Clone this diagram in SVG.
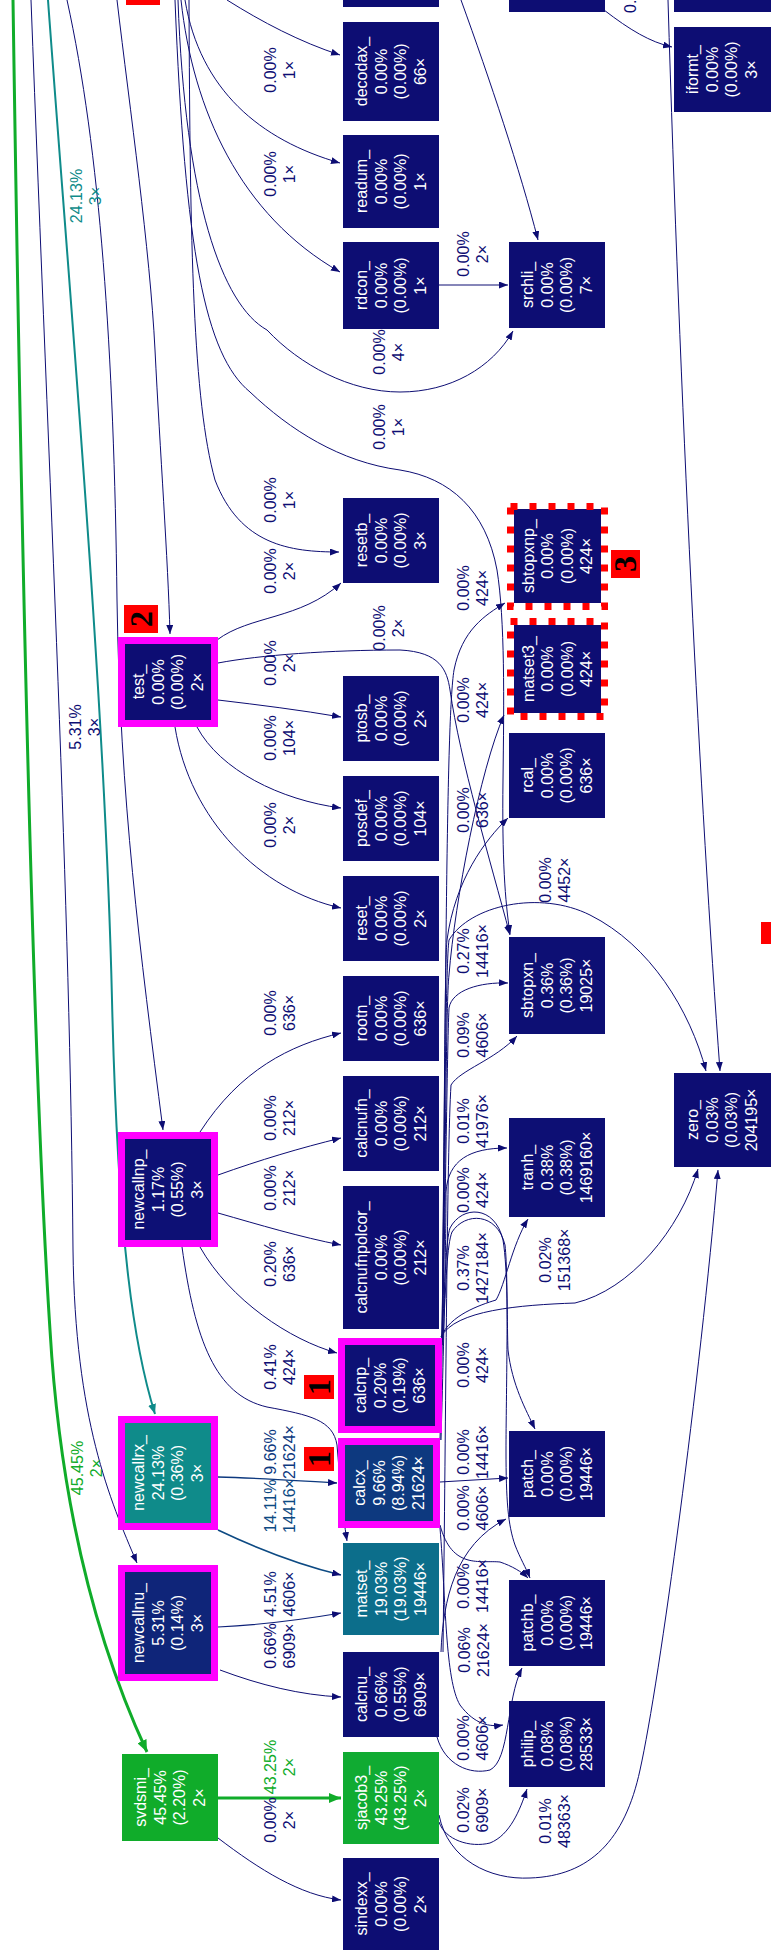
<svg xmlns="http://www.w3.org/2000/svg" width="771" height="1955" viewBox="0 0 771 1955">
<style>
.n rect{fill:#0d0d73}
.n text{font-family:"Liberation Sans",Arial,sans-serif;font-size:16px;fill:#ffffff;text-anchor:middle}
.n .mg{stroke:#ff00ff;stroke-width:7}
.n .dr{fill:none;stroke:#ff0000;stroke-width:7;stroke-dasharray:7 12}
.e path{fill:none;stroke:#0d0d73;stroke-width:1;marker-end:url(#aN)}
.e text{font-family:"Liberation Sans",Arial,sans-serif;font-size:16px;fill:#0d0d73;text-anchor:middle}
.e .g{stroke:#10ac2a;stroke-width:3;marker-end:url(#aG)}
.e .t{stroke:#0f8b8a;stroke-width:2;marker-end:url(#aT)}
.tag rect{fill:#ff0000}
.tag text{font-family:"Liberation Serif","Times New Roman",serif;font-weight:bold;font-size:32px;fill:#000000;text-anchor:middle}
</style>
<defs>
<marker id="aN" markerUnits="userSpaceOnUse" markerWidth="9" markerHeight="7" refX="9" refY="3.5" orient="auto"><path d="M0,0 L9,3.5 L0,7 z" fill="#0d0d73"/></marker>
<marker id="aG" markerUnits="userSpaceOnUse" markerWidth="12" markerHeight="10" refX="12" refY="5" orient="auto"><path d="M0,0 L12,5 L0,10 z" fill="#10ac2a"/></marker>
<marker id="aT" markerUnits="userSpaceOnUse" markerWidth="10" markerHeight="8" refX="10" refY="4" orient="auto"><path d="M0,0 L10,4 L0,8 z" fill="#0f8b8a"/></marker>
</defs>
<rect x="0" y="0" width="771" height="1955" fill="#ffffff"/>
<g id="connectors" class="e">
<path class="g" d="M13,0 C22,600 35,1100 50,1330 C60,1500 95,1640 147,1752"/>
<path d="M31,0 C50,500 70,900 73,1250 C75,1420 110,1500 137,1563"/>
<path class="t" d="M48,0 C70,300 105,700 112,1000 C118,1250 135,1350 155,1414"/>
<path d="M67,0 C100,150 114,350 117,600 C120,800 140,950 163,1130"/>
<path d="M117,0 C130,110 150,250 155,350 C160,450 168,560 170,634"/>
<path d="M227,0 C262,22 300,42 340,55"/>
<path d="M185,0 C200,90 260,140 340,163"/>
<path d="M181,0 C193,110 240,215 340,272"/>
<path d="M178,0 C185,200 222,305 267,330 C300,365 350,392 400,392 C450,392 492,368 513,331"/>
<path d="M175,0 C185,250 205,355 250,392 C290,430 340,462 400,470 C450,478 486,510 497,570 C505,620 504,700 503,780 C502,860 505,900 510,934"/>
<path d="M189,0 C190,250 193,400 215,480 C240,545 290,552 339,552"/>
<path d="M461,0 C490,80 520,170 538,240"/>
<path d="M668,0 C680,400 700,800 720,1071"/>
<path d="M604,10 C630,30 650,42 672,47"/>
<path d="M217,640 C250,615 300,620 341,583"/>
<path d="M218,663 C260,655 330,650 400,650 C440,652 447,670 450,690 C460,760 490,860 510,935"/>
<path d="M218,700 C260,705 300,710 341,717"/>
<path d="M197,727 C220,770 280,800 341,808"/>
<path d="M175,727 C190,820 260,890 341,908"/>
<path d="M200,1132 C240,1070 290,1045 341,1033"/>
<path d="M218,1175 C260,1160 300,1148 341,1138"/>
<path d="M218,1213 C260,1225 300,1237 341,1245"/>
<path d="M200,1247 C230,1300 290,1340 337,1353"/>
<path d="M182,1247 C195,1340 215,1395 267,1407 C310,1415 333,1420 337,1445 C340,1480 342,1510 347,1541"/>
<path style="stroke:#0d397f;stroke-width:1.3" d="M218,1477 C260,1478 300,1481 337,1483"/>
<path style="stroke:#0d4a83;stroke-width:1.6" d="M218,1530 C260,1550 300,1565 341,1575"/>
<path style="stroke:#0d2078;stroke-width:1.1" d="M218,1627 C260,1625 300,1620 341,1613"/>
<path d="M220,1670 C260,1685 300,1695 341,1697"/>
<path class="g" d="M218,1798 L341,1798"/>
<path d="M218,1838 C260,1870 300,1895 341,1900"/>
<path d="M439,285 L508,285"/>
<path d="M442,1342 C446,1000 446,720 454,670 C462,630 485,615 505,603"/>
<path d="M442,1342 C446,1150 446,1000 449,975 C455,900 480,770 504,715"/>
<path d="M442,1345 C445,1050 445,960 447,940 C455,880 485,840 508,818"/>
<path d="M442,1345 C445,1100 446,960 449,940 C470,905 540,890 590,915 C650,945 690,1010 706,1071"/>
<path d="M440,1440 C446,1200 447,1050 449,1008 C452,990 480,982 508,983"/>
<path d="M443,1652 C446,1400 447,1150 451,1085 C460,1070 495,1060 517,1036"/>
<path d="M441,1440 C445,1300 446,1220 446,1192 C448,1160 470,1148 507,1148"/>
<path d="M442,1340 C445,1280 446,1240 450,1228 C462,1205 495,1205 503,1240 C508,1270 507,1330 508,1350 C512,1385 526,1410 535,1429"/>
<path d="M441,1337 C450,1315 480,1305 496,1300 C505,1285 512,1245 528,1219"/>
<path d="M441,1337 C455,1310 520,1305 575,1303 C630,1290 680,1230 698,1169"/>
<path d="M443,1340 C446,1280 447,1245 452,1232 C465,1212 497,1212 505,1245 C509,1280 506,1400 506,1450 C506,1500 508,1525 515,1545 C520,1558 526,1568 530,1578"/>
<path d="M440,1482 L508,1478"/>
<path d="M441,1652 C443,1600 455,1545 506,1519"/>
<path d="M440,1525 C452,1570 480,1560 500,1562 C512,1566 522,1572 528,1578"/>
<path d="M440,1528 C446,1600 445,1680 460,1705 C475,1725 490,1727 503,1725"/>
<path d="M437,1737 C445,1765 470,1775 490,1770 C510,1760 506,1700 522,1668"/>
<path d="M439,1822 C445,1840 470,1848 490,1843 C510,1835 520,1810 527,1789"/>
<path d="M439,1815 C448,1860 490,1880 530,1878 C590,1876 625,1840 640,1770 C660,1680 700,1380 718,1170"/>

<text style="fill:#10ac2a" transform="translate(87,1468) rotate(-90)"><tspan x="0" y="-4.05">45.45%</tspan><tspan x="0" y="15.45">2×</tspan></text>
<text transform="translate(85,727) rotate(-90)"><tspan x="0" y="-4.05">5.31%</tspan><tspan x="0" y="15.45">3×</tspan></text>
<text style="fill:#0f8b8a" transform="translate(86,196) rotate(-90)"><tspan x="0" y="-4.05">24.13%</tspan><tspan x="0" y="15.45">3×</tspan></text>
<text transform="translate(280,70) rotate(-90)"><tspan x="0" y="-4.05">0.00%</tspan><tspan x="0" y="15.45">1×</tspan></text>
<text transform="translate(280,174) rotate(-90)"><tspan x="0" y="-4.05">0.00%</tspan><tspan x="0" y="15.45">1×</tspan></text>
<text transform="translate(389,352) rotate(-90)"><tspan x="0" y="-4.05">0.00%</tspan><tspan x="0" y="15.45">4×</tspan></text>
<text transform="translate(389,427) rotate(-90)"><tspan x="0" y="-4.05">0.00%</tspan><tspan x="0" y="15.45">1×</tspan></text>
<text transform="translate(280,500) rotate(-90)"><tspan x="0" y="-4.05">0.00%</tspan><tspan x="0" y="15.45">1×</tspan></text>
<text transform="translate(636,13) rotate(-90)" style="text-anchor:start">0.00%</text>
<text transform="translate(280,571) rotate(-90)"><tspan x="0" y="-4.05">0.00%</tspan><tspan x="0" y="15.45">2×</tspan></text>
<text transform="translate(389,628) rotate(-90)"><tspan x="0" y="-4.05">0.00%</tspan><tspan x="0" y="15.45">2×</tspan></text>
<text transform="translate(280,663) rotate(-90)"><tspan x="0" y="-4.05">0.00%</tspan><tspan x="0" y="15.45">2×</tspan></text>
<text transform="translate(280,738) rotate(-90)"><tspan x="0" y="-4.05">0.00%</tspan><tspan x="0" y="15.45">104×</tspan></text>
<text transform="translate(280,825) rotate(-90)"><tspan x="0" y="-4.05">0.00%</tspan><tspan x="0" y="15.45">2×</tspan></text>
<text transform="translate(280,1013) rotate(-90)"><tspan x="0" y="-4.05">0.00%</tspan><tspan x="0" y="15.45">636×</tspan></text>
<text transform="translate(280,1118) rotate(-90)"><tspan x="0" y="-4.05">0.00%</tspan><tspan x="0" y="15.45">212×</tspan></text>
<text transform="translate(280,1188) rotate(-90)"><tspan x="0" y="-4.05">0.00%</tspan><tspan x="0" y="15.45">212×</tspan></text>
<text transform="translate(280,1264) rotate(-90)"><tspan x="0" y="-4.05">0.20%</tspan><tspan x="0" y="15.45">636×</tspan></text>
<text transform="translate(280,1367) rotate(-90)"><tspan x="0" y="-4.05">0.41%</tspan><tspan x="0" y="15.45">424×</tspan></text>
<text style="fill:#0d397f" transform="translate(280,1452) rotate(-90)"><tspan x="0" y="-4.05">9.66%</tspan><tspan x="0" y="15.45">21624×</tspan></text>
<text style="fill:#0d4a83" transform="translate(280,1506) rotate(-90)"><tspan x="0" y="-4.05">14.11%</tspan><tspan x="0" y="15.45">14416×</tspan></text>
<text style="fill:#0d2078" transform="translate(280,1594) rotate(-90)"><tspan x="0" y="-4.05">4.51%</tspan><tspan x="0" y="15.45">4606×</tspan></text>
<text transform="translate(280,1646) rotate(-90)"><tspan x="0" y="-4.05">0.66%</tspan><tspan x="0" y="15.45">6909×</tspan></text>
<text style="fill:#10ac2a" transform="translate(280,1767) rotate(-90)"><tspan x="0" y="-4.05">43.25%</tspan><tspan x="0" y="15.45">2×</tspan></text>
<text transform="translate(280,1820) rotate(-90)"><tspan x="0" y="-4.05">0.00%</tspan><tspan x="0" y="15.45">2×</tspan></text>
<text transform="translate(473,254) rotate(-90)"><tspan x="0" y="-4.05">0.00%</tspan><tspan x="0" y="15.45">2×</tspan></text>
<text transform="translate(473,588) rotate(-90)"><tspan x="0" y="-4.05">0.00%</tspan><tspan x="0" y="15.45">424×</tspan></text>
<text transform="translate(473,700) rotate(-90)"><tspan x="0" y="-4.05">0.00%</tspan><tspan x="0" y="15.45">424×</tspan></text>
<text transform="translate(473,810) rotate(-90)"><tspan x="0" y="-4.05">0.00%</tspan><tspan x="0" y="15.45">636×</tspan></text>
<text transform="translate(555,880) rotate(-90)"><tspan x="0" y="-4.05">0.00%</tspan><tspan x="0" y="15.45">4452×</tspan></text>
<text transform="translate(473,951) rotate(-90)"><tspan x="0" y="-4.05">0.27%</tspan><tspan x="0" y="15.45">14416×</tspan></text>
<text transform="translate(473,1035) rotate(-90)"><tspan x="0" y="-4.05">0.09%</tspan><tspan x="0" y="15.45">4606×</tspan></text>
<text transform="translate(473,1121) rotate(-90)"><tspan x="0" y="-4.05">0.01%</tspan><tspan x="0" y="15.45">41976×</tspan></text>
<text transform="translate(473,1190) rotate(-90)"><tspan x="0" y="-4.05">0.00%</tspan><tspan x="0" y="15.45">424×</tspan></text>
<text transform="translate(473,1268) rotate(-90)"><tspan x="0" y="-4.05">0.37%</tspan><tspan x="0" y="15.45">1427184×</tspan></text>
<text transform="translate(555,1260) rotate(-90)"><tspan x="0" y="-4.05">0.02%</tspan><tspan x="0" y="15.45">151368×</tspan></text>
<text transform="translate(473,1365) rotate(-90)"><tspan x="0" y="-4.05">0.00%</tspan><tspan x="0" y="15.45">424×</tspan></text>
<text transform="translate(473,1452) rotate(-90)"><tspan x="0" y="-4.05">0.00%</tspan><tspan x="0" y="15.45">14416×</tspan></text>
<text transform="translate(473,1508) rotate(-90)"><tspan x="0" y="-4.05">0.00%</tspan><tspan x="0" y="15.45">4606×</tspan></text>
<text transform="translate(473,1586) rotate(-90)"><tspan x="0" y="-4.05">0.00%</tspan><tspan x="0" y="15.45">14416×</tspan></text>
<text transform="translate(474,1650) rotate(-90)"><tspan x="0" y="-4.05">0.06%</tspan><tspan x="0" y="15.45">21624×</tspan></text>
<text transform="translate(473,1738) rotate(-90)"><tspan x="0" y="-4.05">0.00%</tspan><tspan x="0" y="15.45">4606×</tspan></text>
<text transform="translate(473,1810) rotate(-90)"><tspan x="0" y="-4.05">0.02%</tspan><tspan x="0" y="15.45">6909×</tspan></text>
<text transform="translate(555,1821) rotate(-90)"><tspan x="0" y="-4.05">0.01%</tspan><tspan x="0" y="15.45">48363×</tspan></text>
</g>

<g id="n_topD" class="n"><rect x="343" y="-40" width="96" height="47"/></g>
<g id="n_topF" class="n"><rect x="509" y="-40" width="96" height="52"/></g>
<g id="n_topH" class="n"><rect x="674" y="-40" width="97" height="52"/></g>

<g id="n_test" class="n"><rect class="mg" x="121.5" y="640.5" width="93" height="83"/><text transform="translate(168,682) rotate(-90)"><tspan x="0" y="-23.55">test_</tspan><tspan x="0" y="-4.05">0.00%</tspan><tspan x="0" y="15.45">(0.00%)</tspan><tspan x="0" y="34.95">2×</tspan></text></g>
<g id="n_newcallnp" class="n"><rect class="mg" x="121.5" y="1135.5" width="93" height="108" style="fill:#0d1075"/><text transform="translate(168,1189.5) rotate(-90)"><tspan x="0" y="-23.55">newcallnp_</tspan><tspan x="0" y="-4.05">1.17%</tspan><tspan x="0" y="15.45">(0.55%)</tspan><tspan x="0" y="34.95">3×</tspan></text></g>
<g id="n_newcallrx" class="n"><rect class="mg" x="121.5" y="1419.5" width="93" height="107" style="fill:#0f8b8a"/><text transform="translate(168,1473) rotate(-90)"><tspan x="0" y="-23.55">newcallrx_</tspan><tspan x="0" y="-4.05">24.13%</tspan><tspan x="0" y="15.45">(0.36%)</tspan><tspan x="0" y="34.95">3×</tspan></text></g>
<g id="n_newcallnu" class="n"><rect class="mg" x="121.5" y="1568.5" width="93" height="109" style="fill:#0f2579"/><text transform="translate(168,1623) rotate(-90)"><tspan x="0" y="-23.55">newcallnu_</tspan><tspan x="0" y="-4.05">5.31%</tspan><tspan x="0" y="15.45">(0.14%)</tspan><tspan x="0" y="34.95">3×</tspan></text></g>
<g id="n_svdsmi" class="n"><rect x="122" y="1754" width="96" height="87" style="fill:#10ac2a"/><text transform="translate(170,1797.5) rotate(-90)"><tspan x="0" y="-23.55">svdsmi_</tspan><tspan x="0" y="-4.05">45.45%</tspan><tspan x="0" y="15.45">(2.20%)</tspan><tspan x="0" y="34.95">2×</tspan></text></g>

<g id="n_decodax" class="n"><rect x="343" y="22" width="96" height="99"/><text transform="translate(391,71.5) rotate(-90)"><tspan x="0" y="-23.55">decodax_</tspan><tspan x="0" y="-4.05">0.00%</tspan><tspan x="0" y="15.45">(0.00%)</tspan><tspan x="0" y="34.95">66×</tspan></text></g>
<g id="n_readum" class="n"><rect x="343" y="135" width="96" height="93"/><text transform="translate(391,181.5) rotate(-90)"><tspan x="0" y="-23.55">readum_</tspan><tspan x="0" y="-4.05">0.00%</tspan><tspan x="0" y="15.45">(0.00%)</tspan><tspan x="0" y="34.95">1×</tspan></text></g>
<g id="n_rdcon" class="n"><rect x="343" y="242" width="96" height="87"/><text transform="translate(391,285.5) rotate(-90)"><tspan x="0" y="-23.55">rdcon_</tspan><tspan x="0" y="-4.05">0.00%</tspan><tspan x="0" y="15.45">(0.00%)</tspan><tspan x="0" y="34.95">1×</tspan></text></g>
<g id="n_resetb" class="n"><rect x="343" y="498" width="96" height="85"/><text transform="translate(391,540.5) rotate(-90)"><tspan x="0" y="-23.55">resetb_</tspan><tspan x="0" y="-4.05">0.00%</tspan><tspan x="0" y="15.45">(0.00%)</tspan><tspan x="0" y="34.95">3×</tspan></text></g>
<g id="n_ptosb" class="n"><rect x="343" y="676" width="96" height="85"/><text transform="translate(391,718.5) rotate(-90)"><tspan x="0" y="-23.55">ptosb_</tspan><tspan x="0" y="-4.05">0.00%</tspan><tspan x="0" y="15.45">(0.00%)</tspan><tspan x="0" y="34.95">2×</tspan></text></g>
<g id="n_posdef" class="n"><rect x="343" y="776" width="96" height="85"/><text transform="translate(391,818.5) rotate(-90)"><tspan x="0" y="-23.55">posdef_</tspan><tspan x="0" y="-4.05">0.00%</tspan><tspan x="0" y="15.45">(0.00%)</tspan><tspan x="0" y="34.95">104×</tspan></text></g>
<g id="n_reset" class="n"><rect x="343" y="876" width="96" height="85"/><text transform="translate(391,918.5) rotate(-90)"><tspan x="0" y="-23.55">reset_</tspan><tspan x="0" y="-4.05">0.00%</tspan><tspan x="0" y="15.45">(0.00%)</tspan><tspan x="0" y="34.95">2×</tspan></text></g>
<g id="n_rootn" class="n"><rect x="343" y="976" width="96" height="85"/><text transform="translate(391,1018.5) rotate(-90)"><tspan x="0" y="-23.55">rootn_</tspan><tspan x="0" y="-4.05">0.00%</tspan><tspan x="0" y="15.45">(0.00%)</tspan><tspan x="0" y="34.95">636×</tspan></text></g>
<g id="n_calcnufn" class="n"><rect x="343" y="1076" width="96" height="95"/><text transform="translate(391,1123.5) rotate(-90)"><tspan x="0" y="-23.55">calcnufn_</tspan><tspan x="0" y="-4.05">0.00%</tspan><tspan x="0" y="15.45">(0.00%)</tspan><tspan x="0" y="34.95">212×</tspan></text></g>
<g id="n_calcnufnpolcor" class="n"><rect x="343" y="1186" width="96" height="143"/><text transform="translate(391,1257.5) rotate(-90)"><tspan x="0" y="-23.55">calcnufnpolcor_</tspan><tspan x="0" y="-4.05">0.00%</tspan><tspan x="0" y="15.45">(0.00%)</tspan><tspan x="0" y="34.95">212×</tspan></text></g>
<g id="n_calcnp" class="n"><rect class="mg" x="341.5" y="1341.5" width="97" height="88" style="fill:#0d1175"/><text transform="translate(390,1385.5) rotate(-90)"><tspan x="0" y="-23.55">calcnp_</tspan><tspan x="0" y="-4.05">0.20%</tspan><tspan x="0" y="15.45">(0.19%)</tspan><tspan x="0" y="34.95">636×</tspan></text></g>
<g id="n_calcx" class="n"><rect class="mg" x="341.5" y="1441.5" width="95" height="83" style="fill:#0d397f"/><text transform="translate(389,1483) rotate(-90)"><tspan x="0" y="-23.55">calcx_</tspan><tspan x="0" y="-4.05">9.66%</tspan><tspan x="0" y="15.45">(8.94%)</tspan><tspan x="0" y="34.95">21624×</tspan></text></g>
<g id="n_matset" class="n"><rect x="343" y="1543" width="96" height="92" style="fill:#0c6e8b"/><text transform="translate(391,1589) rotate(-90)"><tspan x="0" y="-23.55">matset_</tspan><tspan x="0" y="-4.05">19.03%</tspan><tspan x="0" y="15.45">(19.03%)</tspan><tspan x="0" y="34.95">19446×</tspan></text></g>
<g id="n_calcnu" class="n"><rect x="343" y="1652" width="96" height="85" style="fill:#0d0f74"/><text transform="translate(391,1694.5) rotate(-90)"><tspan x="0" y="-23.55">calcnu_</tspan><tspan x="0" y="-4.05">0.66%</tspan><tspan x="0" y="15.45">(0.55%)</tspan><tspan x="0" y="34.95">6909×</tspan></text></g>
<g id="n_sjacob3" class="n"><rect x="343" y="1752" width="96" height="92" style="fill:#10ab32"/><text transform="translate(391,1798) rotate(-90)"><tspan x="0" y="-23.55">sjacob3_</tspan><tspan x="0" y="-4.05">43.25%</tspan><tspan x="0" y="15.45">(43.25%)</tspan><tspan x="0" y="34.95">2×</tspan></text></g>
<g id="n_sindexx" class="n"><rect x="343" y="1858" width="96" height="92"/><text transform="translate(391,1904) rotate(-90)"><tspan x="0" y="-23.55">sindexx_</tspan><tspan x="0" y="-4.05">0.00%</tspan><tspan x="0" y="15.45">(0.00%)</tspan><tspan x="0" y="34.95">2×</tspan></text></g>

<g id="n_srchli" class="n"><rect x="509" y="242" width="96" height="86"/><text transform="translate(557,285) rotate(-90)"><tspan x="0" y="-23.55">srchli_</tspan><tspan x="0" y="-4.05">0.00%</tspan><tspan x="0" y="15.45">(0.00%)</tspan><tspan x="0" y="34.95">7×</tspan></text></g>
<g id="n_sbtopxnp" class="n"><rect x="514" y="509" width="87" height="94"/><rect class="dr" x="510.5" y="506.5" width="94" height="100"/><text transform="translate(557.5,556) rotate(-90)"><tspan x="0" y="-23.55">sbtopxnp_</tspan><tspan x="0" y="-4.05">0.00%</tspan><tspan x="0" y="15.45">(0.00%)</tspan><tspan x="0" y="34.95">424×</tspan></text></g>
<g id="n_matset3" class="n"><rect x="514" y="625" width="87" height="88"/><rect class="dr" x="510.5" y="621.5" width="94" height="95"/><text transform="translate(557.5,669) rotate(-90)"><tspan x="0" y="-23.55">matset3_</tspan><tspan x="0" y="-4.05">0.00%</tspan><tspan x="0" y="15.45">(0.00%)</tspan><tspan x="0" y="34.95">424×</tspan></text></g>
<g id="n_rcal" class="n"><rect x="509" y="733" width="96" height="85"/><text transform="translate(557,775.5) rotate(-90)"><tspan x="0" y="-23.55">rcal_</tspan><tspan x="0" y="-4.05">0.00%</tspan><tspan x="0" y="15.45">(0.00%)</tspan><tspan x="0" y="34.95">636×</tspan></text></g>
<g id="n_sbtopxn" class="n"><rect x="509" y="937" width="96" height="97" style="fill:#0d0f74"/><text transform="translate(557,985.5) rotate(-90)"><tspan x="0" y="-23.55">sbtopxn_</tspan><tspan x="0" y="-4.05">0.36%</tspan><tspan x="0" y="15.45">(0.36%)</tspan><tspan x="0" y="34.95">19025×</tspan></text></g>
<g id="n_tranh" class="n"><rect x="509" y="1118" width="96" height="99" style="fill:#0d0f74"/><text transform="translate(557,1167.5) rotate(-90)"><tspan x="0" y="-23.55">tranh_</tspan><tspan x="0" y="-4.05">0.38%</tspan><tspan x="0" y="15.45">(0.38%)</tspan><tspan x="0" y="34.95">1469160×</tspan></text></g>
<g id="n_patch" class="n"><rect x="509" y="1431" width="96" height="86"/><text transform="translate(557,1474) rotate(-90)"><tspan x="0" y="-23.55">patch_</tspan><tspan x="0" y="-4.05">0.00%</tspan><tspan x="0" y="15.45">(0.00%)</tspan><tspan x="0" y="34.95">19446×</tspan></text></g>
<g id="n_patchb" class="n"><rect x="509" y="1580" width="96" height="86"/><text transform="translate(557,1623) rotate(-90)"><tspan x="0" y="-23.55">patchb_</tspan><tspan x="0" y="-4.05">0.00%</tspan><tspan x="0" y="15.45">(0.00%)</tspan><tspan x="0" y="34.95">19446×</tspan></text></g>
<g id="n_philip" class="n"><rect x="509" y="1701" width="96" height="86"/><text transform="translate(557,1744) rotate(-90)"><tspan x="0" y="-23.55">philip_</tspan><tspan x="0" y="-4.05">0.08%</tspan><tspan x="0" y="15.45">(0.08%)</tspan><tspan x="0" y="34.95">28533×</tspan></text></g>

<g id="n_iformt" class="n"><rect x="674" y="27" width="97" height="85"/><text transform="translate(722,69.5) rotate(-90)"><tspan x="0" y="-23.55">iformt_</tspan><tspan x="0" y="-4.05">0.00%</tspan><tspan x="0" y="15.45">(0.00%)</tspan><tspan x="0" y="34.95">3×</tspan></text></g>
<g id="n_zero" class="n"><rect x="674" y="1073" width="97" height="94"/><text transform="translate(722,1120) rotate(-90)"><tspan x="0" y="-23.55">zero_</tspan><tspan x="0" y="-4.05">0.03%</tspan><tspan x="0" y="15.45">(0.03%)</tspan><tspan x="0" y="34.95">204195×</tspan></text></g>

<g id="tags" class="tag">
<rect x="126" y="-20" width="34" height="25"/>
<rect x="124" y="605" width="34" height="28"/><text transform="translate(141,619) rotate(-90)" y="10.5">2</text>
<rect x="611" y="550" width="29" height="28"/><text transform="translate(625.5,564) rotate(-90)" y="10.5">3</text>
<rect x="304" y="1375" width="30" height="24"/><text transform="translate(319,1387) rotate(-90)" y="10.5">1</text>
<rect x="304" y="1447" width="30" height="24"/><text transform="translate(319,1459) rotate(-90)" y="10.5">1</text>
<rect x="761" y="922" width="30" height="22"/>
</g>
</svg>
